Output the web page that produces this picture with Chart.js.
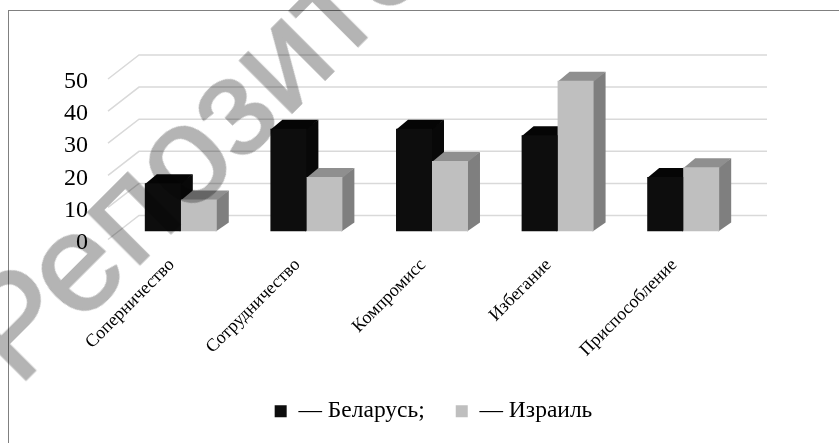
<!DOCTYPE html>
<html lang="ru">
<head>
<meta charset="utf-8">
<title>Стили поведения в конфликте</title>
<script src="https://cdn.jsdelivr.net/npm/chart.js@4"></script>
<style>
  html, body { margin: 0; padding: 0; background: #fff; overflow: hidden; }
  #wrap { position: relative; width: 839px; height: 443px; overflow: hidden; background: #fff; }
  #chart { position: absolute; left: 0; top: 0; }
  #frame { position: absolute; left: 8px; top: 10px; right: 0; bottom: 0; border-left: 1.5px solid #808080; border-top: 1.5px solid #808080; }
  #mark {
    position: absolute; left: 15.5px; top: 259.7px; white-space: nowrap;
    font: 139px "Liberation Sans", sans-serif; color: #b4b4b4;
    -webkit-text-stroke: 2px #b4b4b4;
    transform: rotate(-45deg); transform-origin: 0 125.8px;
    mix-blend-mode: multiply;
  }
</style>
</head>
<body>
<div id="wrap">
  <div id="frame"></div>
  <canvas id="chart" width="839" height="443"></canvas>
  <div id="mark">Репозиторий</div>
</div>
<script>
const categories = ["Соперничество", "Сотрудничество", "Компромисс", "Избегание", "Приспособление"];
const belarus = [15, 32, 32, 30, 17];
const israel = [10, 17, 22, 47, 20];
const yTicks = [0, 10, 20, 30, 40, 50];

const belarusColors = { front: "#0d0d0d", top: "#050505", side: "#080808" };
const israelColors = { front: "#bfbfbf", top: "#8f8f8f", side: "#7f7f7f" };

// fake 3D: back wall lines and the top/side faces of each bar
const wall3d = {
  id: "wall3d",
  beforeDatasetsDraw(chart) {
    const ctx = chart.ctx;
    const area = chart.chartArea;
    const y = chart.scales.y;
    ctx.save();
    ctx.strokeStyle = "#d9d9d9";
    ctx.lineWidth = 1.5;
    yTicks.forEach(v => {
      const py = y.getPixelForValue(v);
      ctx.beginPath();
      ctx.moveTo(area.left - 10, py + 8);
      ctx.lineTo(area.left + 21, py - 16);
      ctx.lineTo(area.right + 21, py - 16);
      ctx.stroke();
    });
    const colors = [belarusColors, israelColors];
    const dx = 12, dy = 9;
    chart.data.datasets.forEach((ds, i) => {
      chart.getDatasetMeta(i).data.forEach(bar => {
        const l = bar.x - bar.width / 2;
        const r = bar.x + bar.width / 2;
        // faces start 1px inside the front so no seam shows
        ctx.fillStyle = colors[i].side;
        ctx.beginPath();
        ctx.moveTo(r - 1, bar.y);
        ctx.lineTo(r + dx, bar.y - dy);
        ctx.lineTo(r + dx, bar.base - dy);
        ctx.lineTo(r - 1, bar.base);
        ctx.fill();
        ctx.fillStyle = colors[i].top;
        ctx.beginPath();
        ctx.moveTo(l, bar.y + 1);
        ctx.lineTo(l + dx, bar.y - dy);
        ctx.lineTo(r + dx, bar.y - dy);
        ctx.lineTo(r, bar.y + 1);
        ctx.fill();
      });
    });
    ctx.restore();
  }
};

new Chart(document.getElementById("chart"), {
  type: "bar",
  data: {
    labels: categories,
    datasets: [
      { label: "— Беларусь;", data: belarus, backgroundColor: belarusColors.front },
      { label: "— Израиль", data: israel, backgroundColor: israelColors.front }
    ]
  },
  options: {
    responsive: false,
    animation: false,
    devicePixelRatio: 1,
    categoryPercentage: 0.573,
    barPercentage: 1,
    layout: { padding: { left: 28, top: 71, right: 0, bottom: 10 } },
    plugins: {
      tooltip: { enabled: false },
      legend: {
        position: "bottom",
        labels: {
          boxWidth: 12,
          boxHeight: 12,
          padding: 31,
          color: "#000",
          font: { family: "Liberation Serif", size: 23.5 }
        }
      }
    },
    scales: {
      x: {
        grid: { display: false },
        border: { display: false },
        afterFit: s => { s.height = 137; },
        ticks: {
          autoSkip: false,
          minRotation: 45,
          maxRotation: 45,
          padding: 15,
          labelOffset: -9,
          color: "#000",
          font: { family: "Liberation Serif", size: 18 }
        }
      },
      y: {
        min: 0,
        max: 50,
        grid: { display: false },
        border: { display: false },
        afterFit: s => { s.width = 90; },
        ticks: {
          stepSize: 10,
          padding: 22,
          labelOffset: 11,
          color: "#000",
          font: { family: "Liberation Serif", size: 24 }
        }
      },
      // empty axis, only keeps the white strip on the right of the plot
      rightGap: {
        position: "right",
        grid: { display: false },
        border: { display: false },
        ticks: { display: false },
        afterFit: s => { s.width = 93; }
      }
    }
  },
  plugins: [wall3d]
});
</script>
</body>
</html>
